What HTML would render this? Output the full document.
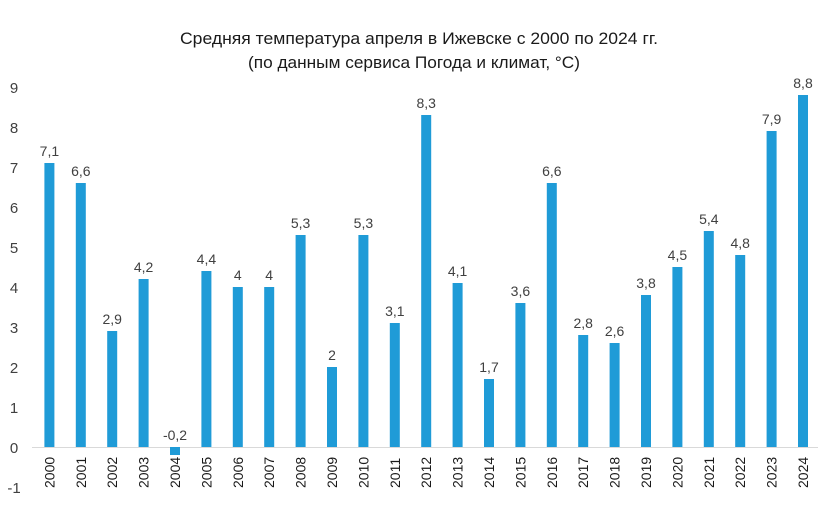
<!DOCTYPE html>
<html><head><meta charset="utf-8"><style>
html,body{margin:0;padding:0;background:#fff;width:831px;height:520px;overflow:hidden}
svg{display:block;font-family:"Liberation Sans","DejaVu Sans",sans-serif}
.v{font-size:14px;fill:#404040;text-anchor:middle}
.y{font-size:14px;fill:#1a1a1a}
.k{font-size:15px;fill:#404040;text-anchor:middle}
</style></head><body>
<svg width="831" height="520" viewBox="0 0 831 520" xmlns="http://www.w3.org/2000/svg">
<rect width="831" height="520" fill="#fff"/>
<text x="419" y="44" font-size="17" text-anchor="middle" fill="#1a1a1a" textLength="478" lengthAdjust="spacingAndGlyphs">Средняя температура апреля в Ижевске с 2000 по 2024 гг.</text>
<text x="414" y="68" font-size="17" text-anchor="middle" fill="#1a1a1a" textLength="332" lengthAdjust="spacingAndGlyphs">(по данным сервиса Погода и климат, °C)</text>
<line x1="32" y1="447.5" x2="818" y2="447.5" stroke="#d9d9d9" stroke-width="1"/>
<g class="k">
<text class="k" x="14" y="493">-1</text><text class="k" x="14" y="453">0</text><text class="k" x="14" y="413">1</text><text class="k" x="14" y="373">2</text><text class="k" x="14" y="333">3</text><text class="k" x="14" y="293">4</text><text class="k" x="14" y="253">5</text><text class="k" x="14" y="213">6</text><text class="k" x="14" y="173">7</text><text class="k" x="14" y="133">8</text><text class="k" x="14" y="93">9</text>
</g>
<g fill="#1f9bd7">
<rect x="44.4" y="163" width="10" height="284"/>
<rect x="75.8" y="183" width="10" height="264"/>
<rect x="107.2" y="331" width="10" height="116"/>
<rect x="138.6" y="279" width="10" height="168"/>
<rect x="170" y="447" width="10" height="8"/>
<rect x="201.4" y="271" width="10" height="176"/>
<rect x="232.8" y="287" width="10" height="160"/>
<rect x="264.2" y="287" width="10" height="160"/>
<rect x="295.6" y="235" width="10" height="212"/>
<rect x="327" y="367" width="10" height="80"/>
<rect x="358.4" y="235" width="10" height="212"/>
<rect x="389.8" y="323" width="10" height="124"/>
<rect x="421.2" y="115" width="10" height="332"/>
<rect x="452.6" y="283" width="10" height="164"/>
<rect x="484" y="379" width="10" height="68"/>
<rect x="515.4" y="303" width="10" height="144"/>
<rect x="546.8" y="183" width="10" height="264"/>
<rect x="578.2" y="335" width="10" height="112"/>
<rect x="609.6" y="343" width="10" height="104"/>
<rect x="641" y="295" width="10" height="152"/>
<rect x="672.4" y="267" width="10" height="180"/>
<rect x="703.8" y="231" width="10" height="216"/>
<rect x="735.2" y="255" width="10" height="192"/>
<rect x="766.6" y="131" width="10" height="316"/>
<rect x="798" y="95" width="10" height="352"/>
</g>
<text class="v" x="49.4" y="156">7,1</text>
<text class="v" x="80.8" y="176">6,6</text>
<text class="v" x="112.2" y="324">2,9</text>
<text class="v" x="143.6" y="272">4,2</text>
<text class="v" x="175" y="440">-0,2</text>
<text class="v" x="206.4" y="264">4,4</text>
<text class="v" x="237.8" y="280">4</text>
<text class="v" x="269.2" y="280">4</text>
<text class="v" x="300.6" y="228">5,3</text>
<text class="v" x="332" y="360">2</text>
<text class="v" x="363.4" y="228">5,3</text>
<text class="v" x="394.8" y="316">3,1</text>
<text class="v" x="426.2" y="108">8,3</text>
<text class="v" x="457.6" y="276">4,1</text>
<text class="v" x="489" y="372">1,7</text>
<text class="v" x="520.4" y="296">3,6</text>
<text class="v" x="551.8" y="176">6,6</text>
<text class="v" x="583.2" y="328">2,8</text>
<text class="v" x="614.6" y="336">2,6</text>
<text class="v" x="646" y="288">3,8</text>
<text class="v" x="677.4" y="260">4,5</text>
<text class="v" x="708.8" y="224">5,4</text>
<text class="v" x="740.2" y="248">4,8</text>
<text class="v" x="771.6" y="124">7,9</text>
<text class="v" x="803" y="88">8,8</text>
<text class="y" transform="translate(54.4,488) rotate(-90)">2000</text>
<text class="y" transform="translate(85.8,488) rotate(-90)">2001</text>
<text class="y" transform="translate(117.2,488) rotate(-90)">2002</text>
<text class="y" transform="translate(148.6,488) rotate(-90)">2003</text>
<text class="y" transform="translate(180,488) rotate(-90)">2004</text>
<text class="y" transform="translate(211.4,488) rotate(-90)">2005</text>
<text class="y" transform="translate(242.8,488) rotate(-90)">2006</text>
<text class="y" transform="translate(274.2,488) rotate(-90)">2007</text>
<text class="y" transform="translate(305.6,488) rotate(-90)">2008</text>
<text class="y" transform="translate(337,488) rotate(-90)">2009</text>
<text class="y" transform="translate(368.4,488) rotate(-90)">2010</text>
<text class="y" transform="translate(399.8,488) rotate(-90)">2011</text>
<text class="y" transform="translate(431.2,488) rotate(-90)">2012</text>
<text class="y" transform="translate(462.6,488) rotate(-90)">2013</text>
<text class="y" transform="translate(494,488) rotate(-90)">2014</text>
<text class="y" transform="translate(525.4,488) rotate(-90)">2015</text>
<text class="y" transform="translate(556.8,488) rotate(-90)">2016</text>
<text class="y" transform="translate(588.2,488) rotate(-90)">2017</text>
<text class="y" transform="translate(619.6,488) rotate(-90)">2018</text>
<text class="y" transform="translate(651,488) rotate(-90)">2019</text>
<text class="y" transform="translate(682.4,488) rotate(-90)">2020</text>
<text class="y" transform="translate(713.8,488) rotate(-90)">2021</text>
<text class="y" transform="translate(745.2,488) rotate(-90)">2022</text>
<text class="y" transform="translate(776.6,488) rotate(-90)">2023</text>
<text class="y" transform="translate(808,488) rotate(-90)">2024</text>
</svg>
</body></html>
